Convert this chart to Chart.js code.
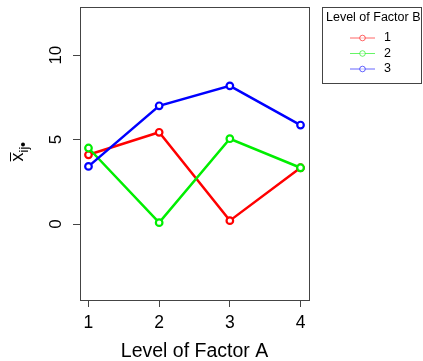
<!DOCTYPE html>
<html>
<head>
<meta charset="utf-8">
<script src="https://cdn.jsdelivr.net/npm/chart.js@4.4.1/dist/chart.umd.min.js"></script>
<style>
  html, body { margin: 0; padding: 0; background: #fff; }
  #wrap { width: 423px; height: 361px; }
</style>
</head>
<body>
<div id="wrap"><canvas id="myChart" width="423" height="361"></canvas></div>
<script>
// data
const factorA = [1, 2, 3, 4];
const levelsB = ['1', '2', '3'];
const meansB1 = [4.1, 5.43, 0.2, 3.33];
const meansB2 = [4.5, 0.08, 5.05, 3.33];
const meansB3 = [3.41, 7.0, 8.18, 5.86];
const yTicks = [0, 5, 10];
const colors = ['#ff0000', '#00ee00', '#0000ff'];

const FONT = '"Liberation Sans", Arial, sans-serif';

function toPoints(vals) {
    return factorA.map((a, i) => ({ x: a, y: vals[i] }));
}

// box, tick labels, axis titles and legend, drawn like base R graphics
const rDecor = {
    id: 'rDecor',
    afterDraw(chart) {
        const { ctx, chartArea: a, scales: { x, y } } = chart;
        ctx.save();
        ctx.strokeStyle = '#444';
        ctx.lineWidth = 1;
        ctx.strokeRect(a.left + 0.5, a.top + 0.5, a.right - a.left, a.bottom - a.top);

        ctx.fillStyle = '#000';
        ctx.font = '17.5px ' + FONT;
        ctx.textAlign = 'center';
        ctx.textBaseline = 'middle';
        factorA.forEach(v => {
            ctx.fillText(String(v), x.getPixelForValue(v), a.bottom + 23);
        });
        ctx.font = '17px ' + FONT;
        yTicks.forEach(v => {
            ctx.save();
            ctx.translate(a.left - 24, y.getPixelForValue(v));
            ctx.rotate(-Math.PI / 2);
            ctx.fillText(String(v), 0, 0);
            ctx.restore();
        });

        ctx.font = '19.5px ' + FONT;
        ctx.fillText('Level of Factor A', (a.left + a.right) / 2, a.bottom + 52);

        // y label: x-bar with subscript ij and dot
        ctx.save();
        ctx.translate(23, 152);
        ctx.rotate(-Math.PI / 2);
        ctx.textAlign = 'left';
        ctx.textBaseline = 'alphabetic';
        ctx.font = '18px ' + FONT;
        const xw = ctx.measureText('x').width;
        ctx.font = '13px ' + FONT;
        const sw = ctx.measureText('ij').width;
        const total = xw + sw + 4;
        let cx = -total / 2;
        ctx.font = '18px ' + FONT;
        ctx.fillText('x', cx, 0);
        ctx.beginPath();
        ctx.lineWidth = 1;
        ctx.strokeStyle = '#000';
        ctx.moveTo(cx, -12.5);
        ctx.lineTo(cx + xw, -12.5);
        ctx.stroke();
        cx += xw;
        ctx.font = '13px ' + FONT;
        ctx.fillText('ij', cx, 5);
        cx += sw + 2;
        ctx.beginPath();
        ctx.arc(cx, 0, 2, 0, Math.PI * 2);
        ctx.fill();
        ctx.restore();

        // legend
        ctx.strokeStyle = '#444';
        ctx.strokeRect(322.5, 7.5, 99, 76);
        ctx.font = '12.5px ' + FONT;
        ctx.textAlign = 'left';
        ctx.textBaseline = 'middle';
        ctx.fillText('Level of Factor B', 326, 18);
        levelsB.forEach((lab, i) => {
            const ly = 38 + i * 15.5;
            ctx.strokeStyle = colors[i];
            ctx.globalAlpha = 0.6;
            ctx.lineWidth = 1;
            ctx.beginPath();
            ctx.moveTo(350, ly);
            ctx.lineTo(375, ly);
            ctx.stroke();
            ctx.fillStyle = '#fff';
            ctx.beginPath();
            ctx.arc(362.5, ly, 2.8, 0, Math.PI * 2);
            ctx.fill();
            ctx.stroke();
            ctx.globalAlpha = 1;
            ctx.fillStyle = '#000';
            ctx.fillText(lab, 384, ly);
        });
        ctx.restore();
    }
};

const seriesVals = [meansB1, meansB2, meansB3];
const ctx = document.getElementById('myChart').getContext('2d');
const myChart = new Chart(ctx, {
    type: 'line',
    data: {
        datasets: levelsB.map((lab, i) => ({
            label: lab,
            data: toPoints(seriesVals[i]),
            borderColor: colors[i],
            backgroundColor: '#fff',
            pointBackgroundColor: '#fff',
            pointBorderColor: colors[i],
            pointRadius: 3.3,
            pointBorderWidth: 2.2,
            borderWidth: 2.5,
            tension: 0,
            order: 2 - i
        }))
    },
    options: {
        responsive: false,
        animation: false,
        layout: { padding: { left: 73, right: 114, top: 7, bottom: 54 } },
        plugins: { legend: { display: false }, tooltip: { enabled: false } },
        scales: {
            x: {
                type: 'linear',
                min: 0.88,
                max: 4.12,
                afterBuildTicks: s => { s.ticks = factorA.map(v => ({ value: v })); },
                ticks: { display: false },
                grid: { drawOnChartArea: false, tickLength: 7, color: '#444' },
                border: { display: false }
            },
            y: {
                min: -4.5,
                max: 12.85,
                afterBuildTicks: s => { s.ticks = yTicks.map(v => ({ value: v })); },
                ticks: { display: false },
                grid: { drawOnChartArea: false, tickLength: 7, color: '#444' },
                border: { display: false }
            }
        }
    },
    plugins: [rDecor]
});
</script>
</body>
</html>
